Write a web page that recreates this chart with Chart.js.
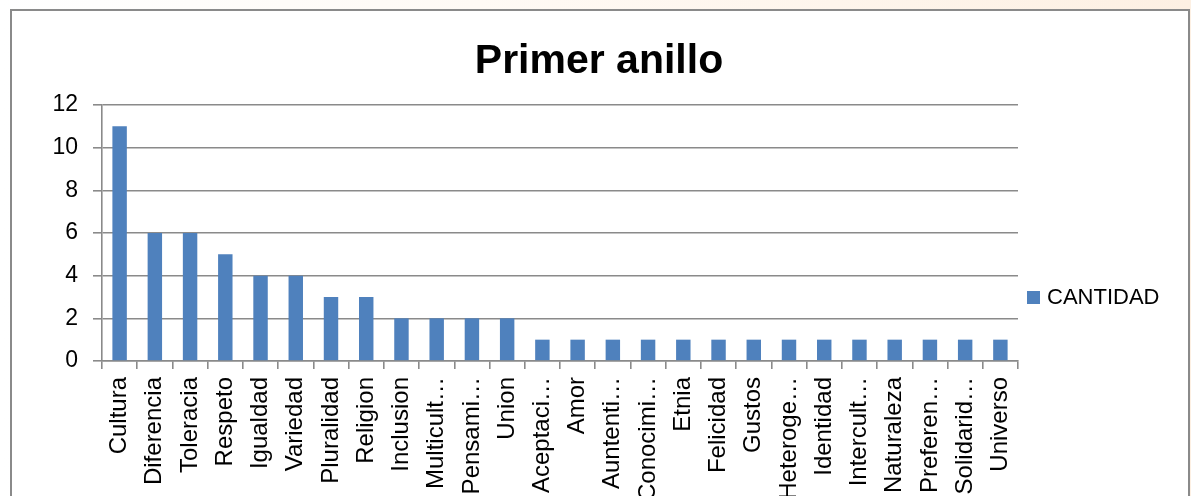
<!DOCTYPE html>
<html>
<head>
<meta charset="utf-8">
<script src="https://cdn.jsdelivr.net/npm/chart.js@4"></script>
<style>
  html, body { margin: 0; padding: 0; width: 1191px; height: 496px; overflow: hidden;
    background: linear-gradient(to right, #ffffff 0%, #fffaf5 40%, #fdf0e3 100%); }
  #frame { position: absolute; left: 10px; top: 9px; width: 1176px; height: 520px;
    background: #ffffff; border: 2px solid #8a8a8a; }
  #wrap { position: absolute; left: 0; top: 0; width: 1191px; height: 496px; }
</style>
</head>
<body>
<div id="frame"></div>
<div id="wrap"><canvas id="c" width="1191" height="496"></canvas></div>
<script>
const chartTitle = "Primer anillo";
const seriesName = "CANTIDAD";
const categories = ["Cultura", "Diferencia", "Toleracia", "Respeto", "Igualdad", "Variedad",
  "Pluralidad", "Religion", "Inclusion", "Multicult…", "Pensami…", "Union", "Aceptaci…",
  "Amor", "Auntenti…", "Conocimi…", "Etnia", "Felicidad", "Gustos", "Heteroge…",
  "Identidad", "Intercult…", "Naturaleza", "Preferen…", "Solidarid…", "Universo"];
const values = [11, 6, 6, 5, 4, 4, 3, 3, 2, 2, 2, 2, 1, 1, 1, 1, 1, 1, 1, 1, 1, 1, 1, 1, 1, 1];
const yTicks = [0, 2, 4, 6, 8, 10, 12];

const FONT = "'Liberation Sans', Arial, sans-serif";
const BAR = "#4f81bd";
const GRID = "#8a8a8a";

const decor = {
  id: 'decor',
  afterDraw(chart) {
    const ctx = chart.ctx;
    ctx.save();
    ctx.fillStyle = '#000';
    ctx.font = "bold 41px " + FONT;
    ctx.textAlign = 'center';
    ctx.textBaseline = 'middle';
    ctx.fillText(chartTitle, 599, 62);
    // legend
    const ds = chart.data.datasets[0];
    ctx.fillStyle = ds.backgroundColor;
    ctx.fillRect(1027, 291, 13, 13);
    ctx.fillStyle = '#000';
    ctx.font = "22px " + FONT;
    ctx.textAlign = 'left';
    ctx.fillText(ds.label, 1047, 298);
    ctx.restore();
  }
};

new Chart(document.getElementById('c'), {
  type: 'bar',
  data: {
    labels: categories,
    datasets: [{
      label: seriesName,
      data: values,
      backgroundColor: BAR,
      borderWidth: 0,
      barPercentage: 0.41,
      categoryPercentage: 1.0
    }]
  },
  options: {
    responsive: false,
    animation: false,
    devicePixelRatio: 1,
    layout: { padding: { left: 0, right: 173, top: 105, bottom: 0 } },
    plugins: { legend: { display: false }, title: { display: false }, tooltip: { enabled: false } },
    scales: {
      x: {
        offset: true,
        grid: { display: true, offset: true, drawOnChartArea: false, drawTicks: true, tickLength: 8,
                color: GRID, lineWidth: 1.6 },
        border: { display: true, color: GRID, width: 1.6 },
        ticks: { autoSkip: false, maxRotation: 90, minRotation: 90, padding: 8,
                 color: '#000', font: { family: FONT, size: 24 } },
        afterFit(scale) { scale.height = 135; }
      },
      y: {
        min: 0, max: 12,
        afterBuildTicks(scale) { scale.ticks = yTicks.map(v => ({ value: v })); },
        grid: { color: GRID, lineWidth: 1.6, drawTicks: true, tickLength: 9 },
        border: { display: true, color: GRID, width: 1.6 },
        ticks: { padding: 15, color: '#000', font: { family: FONT, size: 23 } },
        afterFit(scale) { scale.width = 102; }
      }
    }
  },
  plugins: [decor]
});
</script>
</body>
</html>
